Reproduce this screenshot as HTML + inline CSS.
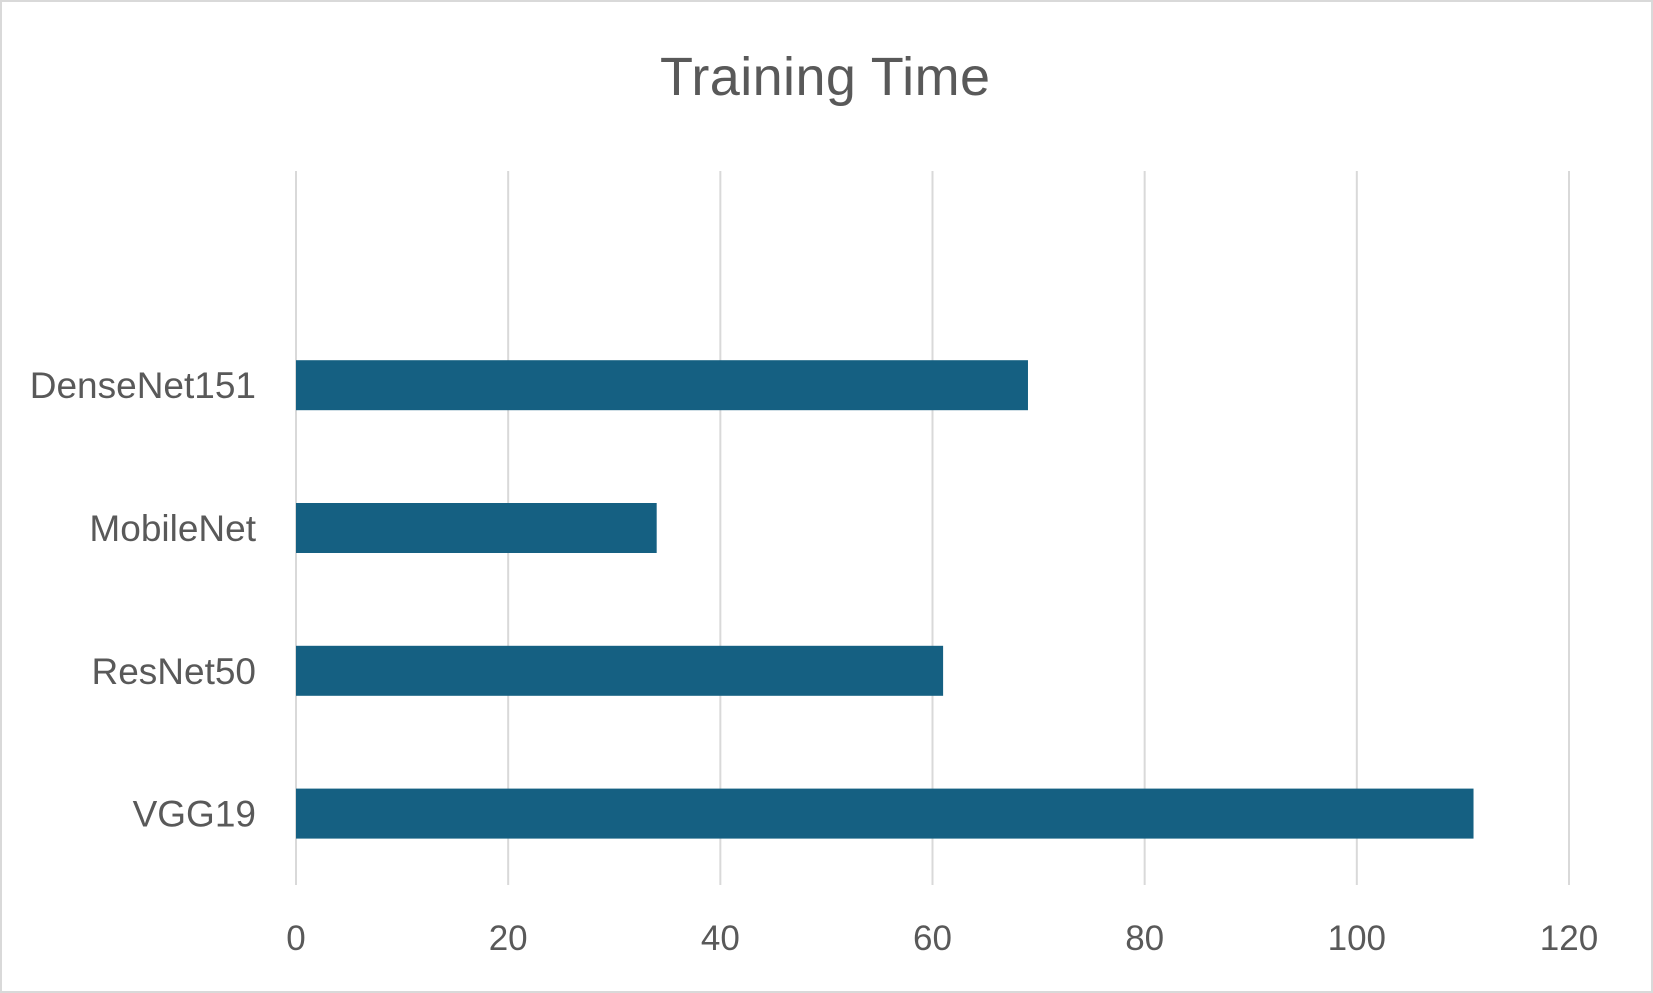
<!DOCTYPE html>
<html><head><meta charset="utf-8"><style>
html,body{margin:0;padding:0;background:#fff;}
svg{display:block;}
text{font-family:"Liberation Sans",sans-serif;fill:#595959;}
</style></head><body>
<svg id="chart" width="1653" height="993" viewBox="0 0 1653 993">
<rect x="1" y="1" width="1651" height="991" fill="#fff" stroke="#d9d9d9" stroke-width="2"/>
<text x="825" y="95" font-size="54" text-anchor="middle" textLength="330">Training Time</text>
<g id="grid"></g>
<g id="bars"></g>
<g id="ylabels"></g>
<g id="xlabels"></g>
</svg>
<script>
const categories = ["VGG19", "ResNet50", "MobileNet", "DenseNet151"];
const values = [111, 61, 34, 69];
const xTicks = [0, 20, 40, 60, 80, 100, 120];
const xTickLabels = ["0", "20", "40", "60", "80", "100", "120"];

const NS = "http://www.w3.org/2000/svg";
const x0 = 296, x1 = 1569, xMax = 120;
const yTop = 171, yBottom = 885, slots = 5;
const band = (yBottom - yTop) / slots;
const barH = 50;
function xScale(v){ return x0 + (v / xMax) * (x1 - x0); }
function yCenter(i){ return yBottom - band * (i + 0.5); }
function mk(tag, attrs){ const e = document.createElementNS(NS, tag); for (const k in attrs) e.setAttribute(k, attrs[k]); return e; }

const grid = document.getElementById('grid');
xTicks.forEach((t, i) => {
  const l = mk('line', {x1: xScale(t), x2: xScale(t), y1: yTop, y2: yBottom, stroke: '#d9d9d9', 'stroke-width': 2});
  
  
  grid.appendChild(l);
  const tx = mk('text', {x: xScale(t), y: 950, 'font-size': 35, 'text-anchor': 'middle'});
  tx.textContent = xTickLabels[i];
  
  
  document.getElementById('xlabels').appendChild(tx);
});

const bars = document.getElementById('bars');
categories.forEach((c, i) => {
  const cy = yCenter(i);
  const r = mk('rect', {x: x0, y: cy - barH / 2, width: xScale(values[i]) - x0, height: barH, fill: '#156082'});
  
  
  bars.appendChild(r);
  const tx = mk('text', {x: 256, y: cy + 13, 'font-size': 37, 'text-anchor': 'end'});
  tx.textContent = c;
  
  
  document.getElementById('ylabels').appendChild(tx);
});
</script>
</body></html>
